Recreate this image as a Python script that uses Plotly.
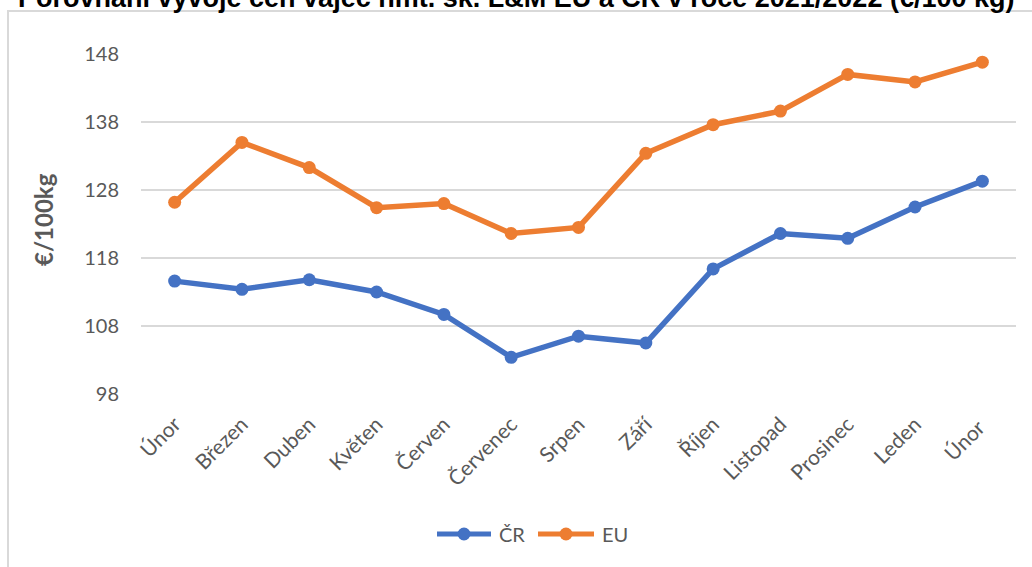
import plotly.graph_objects as go

months = ["Únor", "Březen", "Duben", "Květen", "Červen", "Červenec", "Srpen",
          "Září", "Říjen", "Listopad", "Prosinec", "Leden", "Únor "]
cr_values = [114.6, 113.4, 114.8, 113.0, 109.7, 103.4, 106.5, 105.5, 116.4, 121.6, 120.9, 125.5, 129.3]
eu_values = [126.2, 135.0, 131.3, 125.4, 126.0, 121.6, 122.5, 133.4, 137.6, 139.6, 145.0, 143.9, 146.8]
y_ticks = [98, 108, 118, 128, 138, 148]
series_names = ["ČR", "EU"]
series_colors = ["#4472C4", "#ED7D31"]

title_text = "Porovnání vývoje cen vajec hmt. sk. L&M EU a ČR v roce 2021/2022 (€/100 kg)"

GRAY = "#595959"
FONT = "Lato"

fig = go.Figure()
for name, vals, col in zip(series_names, [cr_values, eu_values], series_colors):
    fig.add_trace(go.Scatter(x=months, y=vals, name=name, mode="lines+markers",
                             line=dict(color=col, width=5.5),
                             marker=dict(size=13, color=col), showlegend=False))

L, R, T, B = 141, 16, 54, 173
W, H = 1032, 567
pw, ph = W - L - R, H - T - B

def px(x):
    return (x - L) / pw

def py(y):
    return (H - B - y) / ph

shapes = [dict(type="rect", xref="paper", yref="paper",
               x0=px(8), x1=px(1045), y0=py(11), y1=py(580),
               line=dict(color="#D9D9D9", width=2), fillcolor="rgba(0,0,0,0)", layer="below")]
annotations = [
    dict(text=title_text, xref="paper", yref="paper", x=px(516), y=py(-2),
         showarrow=False, xanchor="center", yanchor="middle",
         font=dict(family="Liberation Sans", size=27, color="black", weight="bold")),
    dict(text="€/100kg", xref="paper", yref="paper", x=px(43), y=py(220),
         textangle=-90, showarrow=False, xanchor="center", yanchor="middle",
         font=dict(size=24, color=GRAY, family=FONT, weight="bold")),
]

# custom legend (longer line samples as in the reference)
legend_items = [(437, 491, 497), (538, 594, 600)]
ly = 534
for (x0, x1, tx), name, col in zip(legend_items, series_names, series_colors):
    shapes.append(dict(type="line", xref="paper", yref="paper", x0=px(x0), x1=px(x1),
                       y0=py(ly), y1=py(ly), line=dict(color=col, width=5)))
    shapes.append(dict(type="circle", xref="paper", yref="paper", xsizemode="pixel",
                       ysizemode="pixel", xanchor=px((x0 + x1) / 2), yanchor=py(ly),
                       x0=-6.5, x1=6.5, y0=-6.5, y1=6.5, fillcolor=col,
                       line=dict(color=col, width=0)))
    annotations.append(dict(text=name, xref="paper", yref="paper", x=px(tx), y=py(ly),
                            showarrow=False, xanchor="left", yanchor="middle",
                            font=dict(size=20, color=GRAY, family=FONT)))

fig.update_layout(
    width=W, height=H,
    margin=dict(l=L, r=R, t=T, b=B),
    paper_bgcolor="white", plot_bgcolor="white",
    font=dict(family=FONT, color=GRAY, size=20),
    showlegend=False,
    xaxis=dict(type="category", showgrid=False, zeroline=False, showline=False,
               ticks="", tickangle=-45, tickfont=dict(size=21, color=GRAY, family=FONT),
               range=[-0.5, len(months) - 0.5], ticklabelstandoff=13),
    yaxis=dict(range=[98, 148], tickvals=y_ticks, showgrid=True, gridcolor="#D9D9D9",
               gridwidth=1.5, zeroline=False, showline=False, ticks="",
               tickfont=dict(size=20, color=GRAY, family=FONT), ticklabelstandoff=21),
    shapes=shapes,
    annotations=annotations,
)

fig.write_html("out.html", config={"displayModeBar": False},
               post_script="document.body.style.margin='0';")
